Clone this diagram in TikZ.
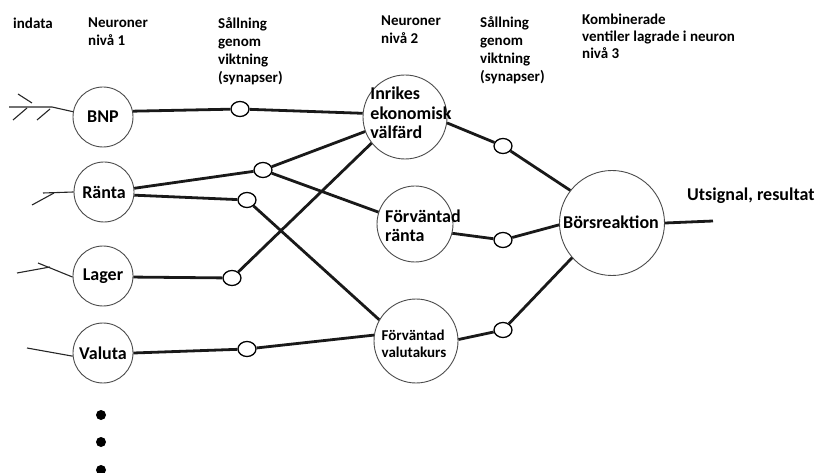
\documentclass[tikz,border=0pt]{standalone}
\usepackage{fontspec}
\setmainfont{Carlito}
\usetikzlibrary{shapes.geometric}
\begin{document}
\begin{tikzpicture}[x=1pt,y=-1pt,
  neuron/.style={circle,draw=black!70,line width=0.9pt,fill=white,inner sep=0pt},
  syn/.style={ellipse,draw=black,line width=1.3pt,fill=white,minimum width=18pt,minimum height=15pt,inner sep=0pt},
  wire/.style={line width=2.8pt,black!90},
  inwire/.style={line width=1.1pt,black!85},
  hdr/.style={font=\fontsize{15}{18}\selectfont\bfseries,align=left,inner sep=0pt,anchor=north west},
  lbl/.style={font=\fontsize{18}{19.5}\selectfont\bfseries,inner sep=0pt},
  dot/.style={circle,fill=black,inner sep=0pt,minimum size=10pt}]

\useasboundingbox (0,0) rectangle (820,473);

% headers
\node[hdr] (h1) at (13,18) {indata};
\node[hdr] (h2) at (88,18) {Neuroner\\nivå 1};
\node[hdr] (h3) at (218,17) {Sållning\\genom\\viktning\\(synapser)};
\node[hdr] (h4) at (381,16) {Neuroner\\nivå 2};
\node[hdr] (h5) at (480,16) {Sållning\\genom\\viktning\\(synapser)};
\node[hdr,font=\fontsize{15}{17}\selectfont\bfseries] (h6) at (582,14) {Kombinerade\\ventiler lagrade i neuron\\nivå 3};

% level 1 neurons
\node[neuron,minimum size=60pt,lbl] (bnp) at (103,117) {BNP};
\node[neuron,minimum size=60pt,lbl] (ranta) at (104,192) {Ränta};
\node[neuron,minimum size=60pt,lbl] (lager) at (103,276) {Lager};
\node[neuron,minimum size=60pt,lbl] (valuta) at (103,353) {Valuta};

% level 2 neurons
\node[neuron,minimum size=84pt] (inr) at (405,117) {};
\node[lbl,align=left] (tinr) at (411,113) {Inrikes\\ekonomisk\\välfärd};
\node[neuron,minimum size=76pt] (fr) at (415,224) {};
\node[lbl,align=left] (tfr) at (423,226) {Förväntad\\ränta};
\node[neuron,minimum size=84pt] (fv) at (416,341) {};
\node[lbl,align=left,font=\fontsize{15}{16.5}\selectfont\bfseries] (tfv) at (414,344) {Förväntad\\valutakurs};

% level 3 neuron
\node[neuron,minimum size=105pt] (bors) at (612,223) {};
\node[lbl] (tbors) at (611,222) {Börsreaktion};
\coordinate (out) at (713,221);
\node[lbl,anchor=base west] (tout) at (687,201) {Utsignal, resultat};

% synapses
\node[syn] (s1) at (240,109) {};
\node[syn] (s2) at (263,170) {};
\node[syn] (s3) at (247,200) {};
\node[syn] (s4) at (232,278) {};
\node[syn] (s5) at (247,349) {};
\node[syn] (s6) at (503,146) {};
\node[syn] (s7) at (503,240) {};
\node[syn] (s8) at (503,330) {};

% connectors level 1 -> 2
\draw[wire] (bnp.11) -- (s1) -- (inr.175);
\draw[wire] (ranta.7) -- (s2) -- (inr.200);
\draw[wire] (s2) -- (fr.162);
\draw[wire] (ranta.-6) -- (s3) -- (fv.150);
\draw[wire] (lager.-2) -- (s4) -- (inr.218);
\draw[wire] (valuta.east) -- (s5) -- (fv.172);

% connectors level 2 -> 3
\draw[wire] (inr.-8) -- (s6) -- (bors.142);
\draw[wire] (fr.-14) -- (s7) -- (bors.182);
\draw[wire] (fv.2) -- (s8) -- (bors.221);
\draw[wire] (bors.east) -- (out);

% inputs
\coordinate (b1) at (9,107);
\coordinate (b2) at (52,107);
\coordinate (b3) at (18,94);
\coordinate (b4) at (32,103);
\coordinate (b5) at (13,120);
\coordinate (b6) at (27,108);
\coordinate (b7) at (37,120);
\coordinate (b8) at (50,109);
\draw[inwire] (b1) -- (b2) -- (bnp.170);
\draw[inwire] (b3) -- (b4);
\draw[inwire] (b5) -- (b6);
\draw[inwire] (b7) -- (b8);

\coordinate (r1) at (32,205);
\coordinate (r2) at (54,193);
\coordinate (r3) at (43,193);
\draw[inwire] (r1) -- (r2);
\draw[inwire] (r3) -- (ranta.180);

\coordinate (l1) at (17,273);
\coordinate (l2) at (50,267);
\coordinate (l3) at (38,263);
\draw[inwire] (l1) -- (l2);
\draw[inwire] (l3) -- (lager.182);

\coordinate (v1) at (27,348);
\draw[inwire] (v1) -- (valuta.186);

% dots
\node[dot] (d1) at (101,415) {};
\node[dot] (d2) at (101,442) {};
\node[dot] (d3) at (101,470) {};
\end{tikzpicture}
\end{document}
